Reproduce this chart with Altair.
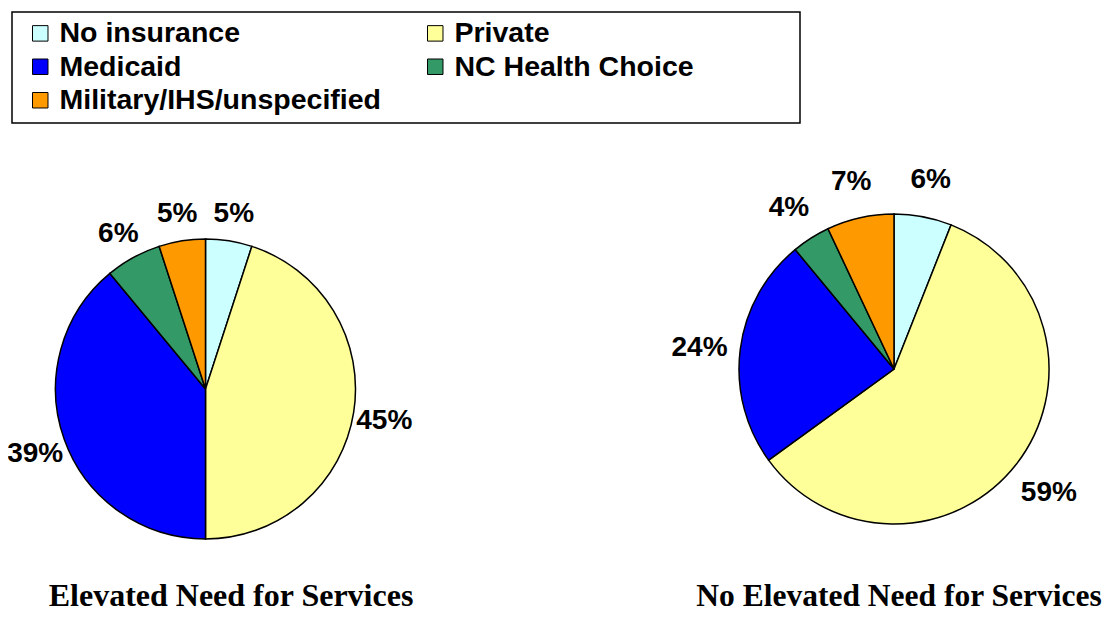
import altair as alt
import pandas as pd

categories = ["No insurance", "Private", "Medicaid", "NC Health Choice", "Military/IHS/unspecified"]
colors = ["#CCFFFF", "#FFFF99", "#0000FF", "#339966", "#FF9900"]
elevated = [5, 45, 39, 6, 5]
not_elevated = [6, 59, 24, 4, 7]
groups = ["Elevated Need for Services", "No Elevated Need for Services"]

# legend is filled column by column: this order gives the reference's row layout
legend_order = ["No insurance", "Medicaid", "Military/IHS/unspecified", "Private", "NC Health Choice"]
legend_colors = [colors[categories.index(c)] for c in legend_order]

rows = []
for g, vals in zip(groups, [elevated, not_elevated]):
    for i, (c, v) in enumerate(zip(categories, vals)):
        rows.append({"group": g, "category": c, "value": v, "order": i, "label": f"{v}%"})
df = pd.DataFrame(rows)
titles_df = pd.DataFrame({"group": groups})

color = alt.Color(
    "category:N",
    scale=alt.Scale(domain=legend_order, range=legend_colors),
    title=None,
    legend=alt.Legend(
        orient="none", legendX=2, legendY=3, columns=2,
        columnPadding=32, rowPadding=4.5, padding=8,
        symbolType="square", symbolSize=240, symbolStrokeColor="black",
        symbolStrokeWidth=1, symbolOffset=8, symbolOpacity=1,
        labelFont="Liberation Sans", labelFontWeight="bold", labelFontSize=28.5,
        labelColor="black", labelOffset=5, labelLimit=0,
    ),
)

# legend frame
frame = alt.Chart(titles_df.head(1)).mark_rect(
    fill="white", stroke="black", strokeWidth=1.5
).encode(x=alt.value(4), x2=alt.value(792), y=alt.value(4), y2=alt.value(115))


def pie(g, cx, cy, r, lr, tx, fs):
    base = alt.Chart(df).transform_filter(alt.datum.group == g)
    arc = base.mark_arc(outerRadius=r, stroke="black", strokeWidth=1.5).encode(
        theta=alt.Theta("value:Q", stack=True),
        color=color,
        order=alt.Order("order:Q"),
        x=alt.value(cx), y=alt.value(cy),
    )
    text = base.mark_text(
        radius=lr, font="Liberation Sans", fontWeight="bold", fontSize=28, color="black", dy=4
    ).encode(
        theta=alt.Theta("value:Q", stack=True),
        order=alt.Order("order:Q"),
        text="label:N",
        x=alt.value(cx), y=alt.value(cy),
    )
    title = alt.Chart(titles_df).transform_filter(alt.datum.group == g).mark_text(
        font="Liberation Serif", fontWeight="bold", fontSize=fs, color="black",
        baseline="alphabetic", align="center",
    ).encode(text="group:N", x=alt.value(tx), y=alt.value(598))
    return [arc, text, title]


layers = [frame] + pie(groups[0], 197.5, 381, 150, 181, 223, 32) + pie(groups[1], 886, 361, 155, 196, 891, 31.5)

chart = alt.layer(*layers).properties(
    width=1097, height=605, padding=0,
    autosize=alt.AutoSizeParams(type="none"),
).configure_view(strokeWidth=0)

chart.save("out.html", embed_options={"renderer": "svg", "actions": False})
